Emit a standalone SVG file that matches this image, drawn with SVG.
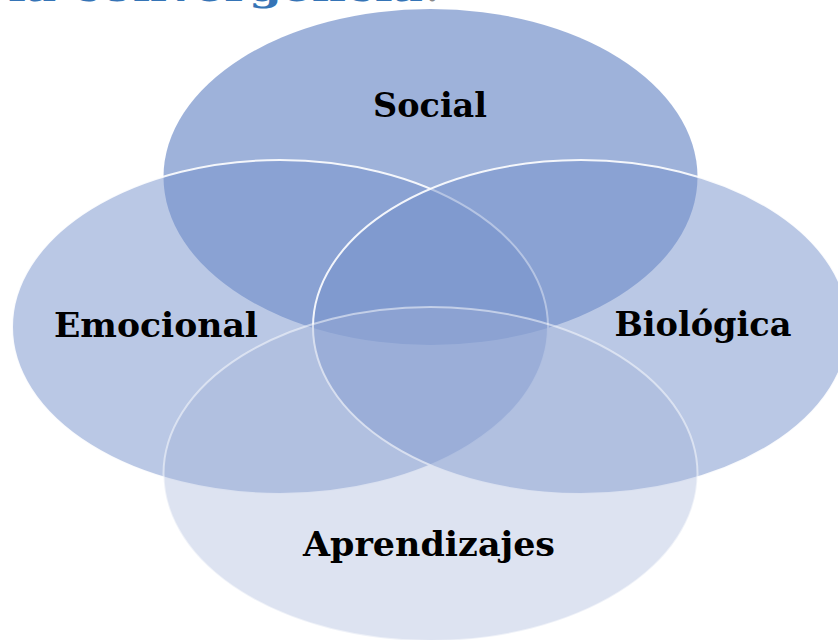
<svg xmlns="http://www.w3.org/2000/svg" width="838" height="640" viewBox="0 0 838 640">
  <style>
    .lbl { font-family: "DejaVu Serif", "Liberation Serif", serif; font-weight: bold; font-size: 34px; fill: #000; text-anchor: middle; }
    .title { font-family: "DejaVu Serif", "Liberation Serif", serif; font-weight: bold; font-size: 36px; fill: #3574B6; }
    .mid { fill: #7591CB; fill-opacity: 0.5; stroke: #fff; stroke-width: 2; stroke-opacity: 0.9; }
  </style>
  <rect width="838" height="640" fill="#fff"/>
  <text class="title" x="8" y="1" textLength="415" lengthAdjust="spacingAndGlyphs">la convergencia</text>
  <text class="title" x="426" y="1" style="fill:#8a8a8a">.</text>
  <g id="social">
    <ellipse cx="430.5" cy="177" rx="267" ry="168" fill="#7591CB" fill-opacity="0.7"/>
  </g>
  <g id="emocional">
    <ellipse class="mid" cx="280" cy="327" rx="268" ry="167"/>
  </g>
  <g id="biologica">
    <ellipse class="mid" cx="581" cy="327" rx="268" ry="167"/>
  </g>
  <g id="aprendizajes">
    <ellipse cx="430.5" cy="474" rx="267" ry="167" fill="#A1B1D8" fill-opacity="0.36" stroke="#fff" stroke-width="2" stroke-opacity="0.5"/>
  </g>
  <g id="connectors"/>
  <g id="labels">
    <text class="lbl" x="430" y="117" textLength="114" lengthAdjust="spacingAndGlyphs">Social</text>
    <text class="lbl" x="156" y="337" textLength="204" lengthAdjust="spacingAndGlyphs">Emocional</text>
    <text class="lbl" x="703" y="336" textLength="177" lengthAdjust="spacingAndGlyphs">Biológica</text>
    <text class="lbl" x="429" y="556" textLength="252" lengthAdjust="spacingAndGlyphs">Aprendizajes</text>
  </g>
</svg>
